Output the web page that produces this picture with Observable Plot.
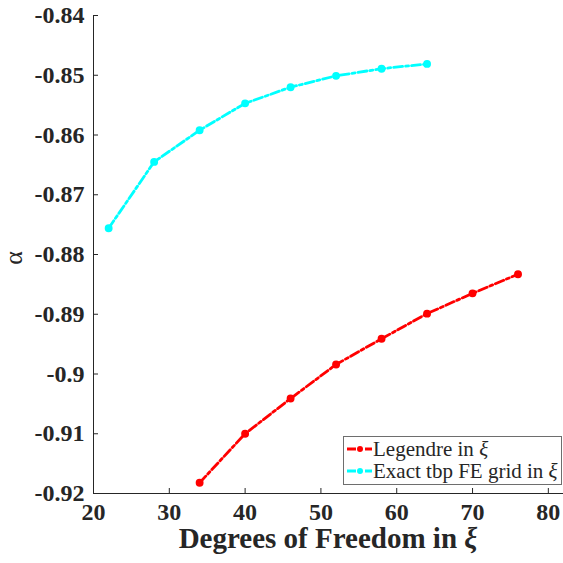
<!DOCTYPE html>
<html><head><meta charset="utf-8">
<script src="https://cdn.jsdelivr.net/npm/d3@7"></script>
<script src="https://cdn.jsdelivr.net/npm/@observablehq/plot@0.6"></script>
<style>
html,body{margin:0;padding:0;background:#fff;overflow:hidden}
svg, svg text { font-family: "Liberation Serif", "Times New Roman", serif !important; }
</style>
</head><body><div id="chart"></div>
<script>
const legendreDOF = [34, 40, 46, 52, 58, 64, 70, 76];
const legendreAlpha = [-0.9182, -0.9100, -0.9041, -0.8984, -0.8941, -0.8899, -0.8865, -0.8833];
const exactDOF = [22, 28, 34, 40, 46, 52, 58, 64];
const exactAlpha = [-0.8756, -0.8645, -0.8592, -0.8547, -0.8520, -0.8501, -0.8489, -0.8481];
const xTicks = [20, 30, 40, 50, 60, 70, 80];
const yTicks = [-0.92, -0.91, -0.9, -0.89, -0.88, -0.87, -0.86, -0.85, -0.84];
const seriesNames = ["Legendre in ", "Exact tbp FE grid in "];
const seriesColors = ["#ff0000", "#00ffff"];
const xTitle = "Degrees of Freedom in ";
const yTitle = "α";
const symbol = "ξ";

const legendre = legendreDOF.map((d, i) => ({dof: d, alpha: legendreAlpha[i]}));
const exact = exactDOF.map((d, i) => ({dof: d, alpha: exactAlpha[i]}));

const W = 563, H = 563, mL = 93, mR = 0, mT = 15, mB = 70;
const pw = W - mL - mR, ph = H - mT - mB;
const axisColor = "#262626";
const dash = "9,3,3,3";
const lw = 2.8;

const chart = Plot.plot({
  width: W, height: H,
  marginLeft: mL, marginRight: mR, marginTop: mT, marginBottom: mB,
  style: {background: "white", overflow: "visible"},
  x: {domain: [20, 82]},
  y: {domain: [-0.92, -0.84]},
  marks: [
    Plot.axisX({ticks: xTicks, tickSize: 0, tickPadding: 9, label: null, fontSize: 24, fontWeight: "bold", fill: axisColor, tickFormat: d => String(d)}),
    Plot.axisY({ticks: yTicks, tickSize: 0, tickPadding: 9, label: null, fontSize: 24, fontWeight: "bold", fill: axisColor, tickFormat: d => String(d)}),
    Plot.ruleX([20], {stroke: axisColor, strokeWidth: 1}),
    Plot.ruleY([-0.92], {stroke: axisColor, strokeWidth: 1}),
    Plot.tickY(yTicks, {y: d => d, insetRight: pw - 5, stroke: axisColor}),
    Plot.tickX(xTicks, {x: d => d, insetTop: ph - 5, stroke: axisColor}),
    Plot.line(legendre, {x: "dof", y: "alpha", stroke: seriesColors[0], strokeWidth: lw, strokeDasharray: dash}),
    Plot.dot(legendre, {x: "dof", y: "alpha", r: 3.2, fill: seriesColors[0], stroke: seriesColors[0]}),
    Plot.line(exact, {x: "dof", y: "alpha", stroke: seriesColors[1], strokeWidth: lw, strokeDasharray: dash}),
    Plot.dot(exact, {x: "dof", y: "alpha", r: 3.2, fill: seriesColors[1], stroke: seriesColors[1]})
  ]
});
document.getElementById("chart").appendChild(chart);

const svg = d3.select(chart);
// x title
const xt = svg.append("text").attr("x", mL + pw / 2).attr("y", 548).attr("text-anchor", "middle")
  .attr("font-size", 29).attr("font-weight", "bold").attr("fill", axisColor);
xt.append("tspan").text(xTitle);
xt.append("tspan").attr("font-style", "italic").text(symbol);
// y title
svg.append("text").attr("transform", "translate(22,258) rotate(-90)").attr("text-anchor", "middle")
  .attr("font-size", 26).attr("font-weight", "normal").attr("fill", axisColor).text(yTitle);
// legend
const lg = svg.append("g");
lg.append("rect").attr("x", 343.5).attr("y", 436.5).attr("width", 218).attr("height", 48)
  .attr("fill", "white").attr("stroke", "#6e6e6e").attr("stroke-width", 1);
seriesNames.forEach((name, i) => {
  const yy = 449 + i * 22;
  lg.append("line").attr("x1", 347).attr("x2", 372).attr("y1", yy).attr("y2", yy)
    .attr("stroke", seriesColors[i]).attr("stroke-width", lw).attr("stroke-dasharray", dash);
  lg.append("circle").attr("cx", 360).attr("cy", yy).attr("r", 3).attr("fill", seriesColors[i]);
  const t = lg.append("text").attr("x", 373).attr("y", yy + 7).attr("text-anchor", "start")
    .attr("font-size", 21).attr("font-weight", "normal").attr("fill", axisColor);
  t.append("tspan").text(name);
  t.append("tspan").attr("font-style", "italic").text(symbol);
});
</script>
</body></html>
